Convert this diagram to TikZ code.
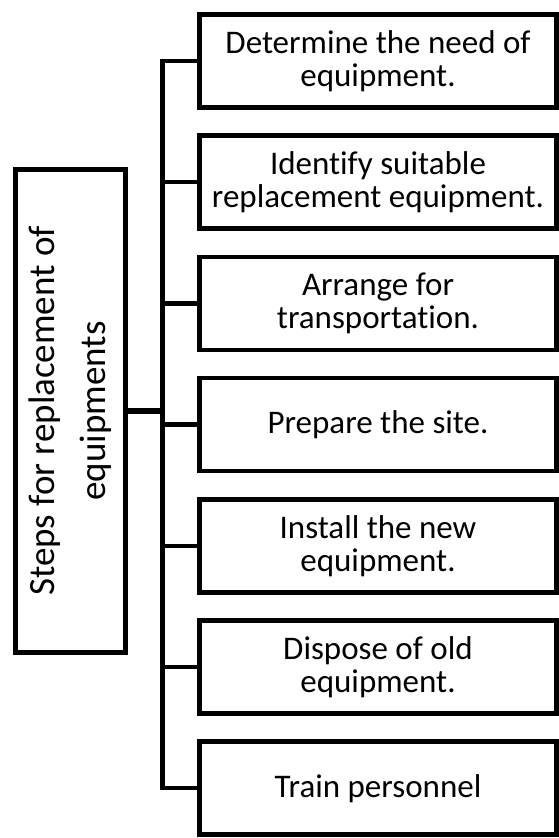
\documentclass[tikz,border=0pt]{standalone}
\usepackage{fontspec}
\setmainfont{Carlito}[Ligatures=NoCommon]
\usepackage{tikz}

\tikzset{
  stepbox/.style={draw,line width=4.5pt,minimum width=357pt,minimum height=93pt,
    inner sep=0pt,align=center,font=\fontsize{33}{33}\selectfont},
  mainbox/.style={draw,line width=4.5pt,rotate=90,minimum width=483pt,minimum height=110pt,
    inner sep=0pt,align=center,font=\fontsize{37}{51}\selectfont},
  link/.style={line width=4.5pt}
}

\begin{document}
\begin{tikzpicture}[x=1pt,y=-1pt]
  \useasboundingbox (0,0) rectangle (559,838);

  % left title box, text runs upwards
  \node[mainbox] (main) at (70.5,411) {Steps for replacement of\\equipments};

  % the seven steps
  \node[stepbox] (s1) at (378,61)    {Determine the need of\\equipment.};
  \node[stepbox] (s2) at (378,182.2) {Identify suitable\\replacement equipment.};
  \node[stepbox] (s3) at (378,303.4) {Arrange for\\transportation.};
  \node[stepbox] (s4) at (378,424.6) {Prepare the site.};
  \node[stepbox] (s5) at (378,545.8) {Install the new\\equipment.};
  \node[stepbox] (s6) at (378,667)   {Dispose of old\\equipment.};
  \node[stepbox] (s7) at (378,788.2) {Train personnel};

  % bracket: vertical bus with a tick to every step
  \coordinate (bus) at (162.5,0);
  \draw[link] (s1.west) -- (s1.west -| bus) -- (s7.west -| bus) -- (s7.west);
  \draw[link] (s2.west) -- (s2.west -| bus);
  \draw[link] (s3.west) -- (s3.west -| bus);
  \draw[link] (s4.west) -- (s4.west -| bus);
  \draw[link] (s5.west) -- (s5.west -| bus);
  \draw[link] (s6.west) -- (s6.west -| bus);
  % rotated node: .south is its right side
  \draw[link,line width=6.5pt] (main.south) -- (main.south -| bus);
\end{tikzpicture}
\end{document}
